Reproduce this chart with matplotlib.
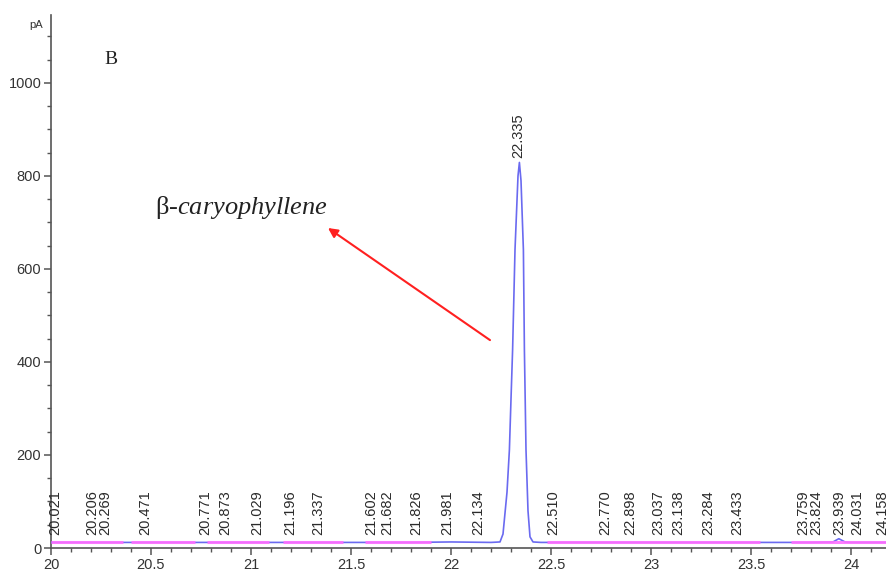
import matplotlib
matplotlib.use("Agg")
import matplotlib.pyplot as plt
from matplotlib.ticker import MultipleLocator

# ---- data ----
sig_t = [20.00, 20.30, 20.60, 20.90, 21.20, 21.50, 21.80, 22.00, 22.20, 22.245,
         22.26, 22.28, 22.292, 22.30, 22.308, 22.32, 22.335, 22.342, 22.35,
         22.362, 22.367, 22.375, 22.385, 22.395, 22.41, 22.45, 22.60, 22.90,
         23.20, 23.50, 23.80, 23.91, 23.939, 23.97, 24.00, 24.18]
sig_v = [12, 12, 12, 12, 12, 12, 12, 13, 12, 13,
         30, 120, 211, 320, 426, 641, 800, 829, 790,
         641, 426, 211, 80, 24, 13, 12, 12, 12,
         12, 12, 12, 13, 20, 13, 12, 12]

base_start = [20.00, 20.40, 20.78, 21.16, 21.57, 22.48, 23.70]
base_end   = [20.36, 20.72, 21.09, 21.46, 21.90, 23.545, 24.18]
base_level = 12

peak_rt = ["20.021", "20.206", "20.269", "20.471", "20.771", "20.873", "21.029",
           "21.196", "21.337", "21.602", "21.682", "21.826", "21.981", "22.134",
           "22.335", "22.510", "22.770", "22.898", "23.037", "23.138", "23.284",
           "23.433", "23.759", "23.824", "23.939", "24.031", "24.158"]
main_peak = "22.335"
main_peak_height = 829

compound = "caryophyllene"
panel = "B"
y_unit = "pA"

# ---- figure ----
plt.rcParams["mathtext.fontset"] = "custom"
plt.rcParams["mathtext.rm"] = "Liberation Serif"
plt.rcParams["mathtext.it"] = "Liberation Serif:italic"

fig = plt.figure(figsize=(8.87, 5.72), dpi=100)
ax = fig.add_axes([51/887, 24/572, 1 - 51/887, (548 - 15)/572])
ax.set_xlim(20, 24.18)
ax.set_ylim(0, 1146)

ax.plot(sig_t, sig_v, color="#6a6af0", lw=1.2, zorder=3)
for s, e in zip(base_start, base_end):
    ax.plot([s, e], [base_level, base_level], color="#ff70ff", lw=2.2,
            solid_capstyle="butt", zorder=4, alpha=0.9)

lab_font = dict(family="Liberation Sans", size=10.5, color="#2a2a2a")
for rt in peak_rt:
    t = float(rt)
    if rt == main_peak:
        ax.text(t, main_peak_height + 10, rt, rotation=90, ha="center",
                va="bottom", **lab_font, zorder=5)
    else:
        ax.text(t, 27, rt, rotation=90, ha="center", va="bottom",
                **lab_font, zorder=5)

# annotation
ax.annotate("", xy=(21.385, 688), xytext=(22.195, 447),
            arrowprops=dict(arrowstyle="-|>", color="#ff2020", lw=1.5,
                            mutation_scale=14, shrinkA=0, shrinkB=0))
ax.text(20.52, 733, "β-$\\it{" + compound + "}$", family="Liberation Serif",
        fontsize=19, color="#222222", va="center", ha="left")
ax.text(20.30, 1050, panel, family="Liberation Serif", fontsize=14,
        color="#222222", va="center", ha="center")

# axes styling
for sp in ["top", "right"]:
    ax.spines[sp].set_visible(False)
for sp in ["left", "bottom"]:
    ax.spines[sp].set_color("#555555")
    ax.spines[sp].set_linewidth(1.2)

ax.xaxis.set_major_locator(MultipleLocator(0.5))
ax.xaxis.set_minor_locator(MultipleLocator(0.1))
ax.yaxis.set_major_locator(MultipleLocator(200))
ax.yaxis.set_minor_locator(MultipleLocator(50))
ax.xaxis.set_major_formatter(plt.FuncFormatter(lambda v, p: f"{v:g}"))
ax.tick_params(which="major", length=5, width=1.1, color="#555555",
               labelsize=10.5, labelcolor="#333333", pad=2)
ax.tick_params(which="minor", length=3, width=1.0, color="#555555")
for lab in ax.get_xticklabels() + ax.get_yticklabels():
    lab.set_family("Liberation Sans")

fig.text(36/887, 1 - 25/572, y_unit, family="Liberation Sans", fontsize=8,
         color="#333333", ha="center", va="center")

fig.savefig("out.png", dpi=100)
